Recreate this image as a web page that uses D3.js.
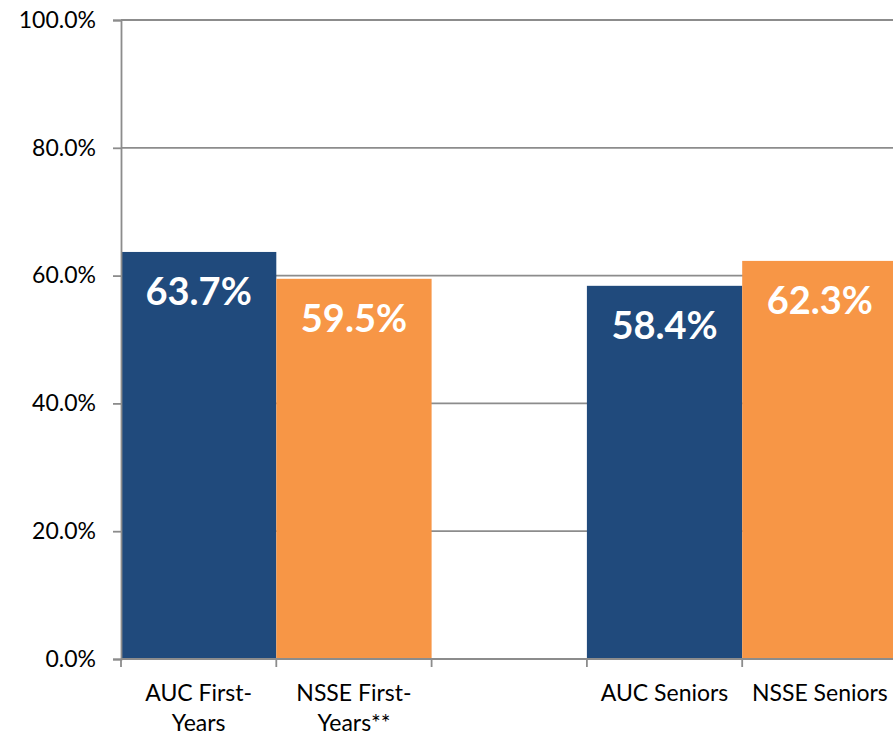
<!DOCTYPE html>
<html>
<head>
<meta charset="utf-8">
<script src="https://cdn.jsdelivr.net/npm/d3@7"></script>
<style>
  html, body { margin: 0; padding: 0; background: #fff; }
  svg { display: block; }
  text { font-family: Lato, "Open Sans", sans-serif; }
</style>
</head>
<body>
<svg id="chart" width="893" height="736"></svg>
<script>
// Share of students per group; the empty slot separates first-years from seniors
const categories = ["AUC First-Years", "NSSE First-Years**", "", "AUC Seniors", "NSSE Seniors"];
const values = [0.637, 0.595, null, 0.584, 0.623];
const groups = ["AUC", "NSSE", "", "AUC", "NSSE"];
const yTicks = [0, 0.2, 0.4, 0.6, 0.8, 1.0];
const colors = { AUC: "#204a7c", NSSE: "#f79646" };

const svg = d3.select("#chart");
const plotLeft = 121, plotTop = 20, plotBottom = 659, band = 155.3;

const x = d3.scaleBand()
  .domain(categories.map((c, i) => i))
  .range([plotLeft, plotLeft + band * categories.length])
  .padding(0);

const y = d3.scaleLinear().domain([0, 1]).range([plotBottom, plotTop]);

const gridColor = "#8c8c8c";
const pct = d3.format(".1%");

// horizontal gridlines
svg.append("g")
  .selectAll("line")
  .data(yTicks.filter(t => t > 0))
  .join("line")
  .attr("x1", plotLeft).attr("x2", 893)
  .attr("y1", d => y(d)).attr("y2", d => y(d))
  .attr("stroke", gridColor)
  .attr("stroke-width", 1.8);

// bars
const rows = categories.map((c, i) => ({ i, c, v: values[i], g: groups[i] }))
  .filter(d => d.v != null);

svg.append("g")
  .selectAll("rect")
  .data(rows)
  .join("rect")
  .attr("x", d => x(d.i))
  .attr("width", x.bandwidth())
  .attr("y", d => y(d.v))
  .attr("height", d => y(0) - y(d.v))
  .attr("fill", d => colors[d.g]);

// value labels inside the bars
svg.append("g")
  .selectAll("text")
  .data(rows)
  .join("text")
  .attr("x", d => x(d.i) + x.bandwidth() / 2)
  .attr("y", d => y(d.v) + 53)
  .attr("text-anchor", "middle")
  .attr("fill", "#fff")
  .attr("font-weight", 700)
  .attr("font-size", 38)
  .text(d => pct(d.v));

// y axis
const yAxis = svg.append("g")
  .attr("transform", `translate(${plotLeft},0)`)
  .call(d3.axisLeft(y).tickValues(yTicks).tickFormat(pct).tickSize(8).tickPadding(17));
yAxis.select(".domain").attr("stroke", gridColor).attr("stroke-width", 1.8);
yAxis.selectAll(".tick line").attr("stroke", gridColor).attr("stroke-width", 1.8);
yAxis.selectAll(".tick text")
  .attr("font-family", "Lato, 'Open Sans', sans-serif")
  .attr("font-size", 23)
  .attr("fill", "#000");

// x axis with tick marks on category boundaries
const xAxis = svg.append("g").attr("transform", `translate(0,${plotBottom})`);
xAxis.append("line")
  .attr("x1", plotLeft).attr("x2", 893)
  .attr("stroke", gridColor).attr("stroke-width", 1.8);
xAxis.selectAll("line.tick")
  .data(categories.map((c, i) => i))
  .join("line")
  .attr("class", "tick")
  .attr("x1", d => x(d)).attr("x2", d => x(d))
  .attr("y1", 0).attr("y2", 8)
  .attr("stroke", gridColor).attr("stroke-width", 1.8);

// category labels, wrapped to the band width
const maxW = x.bandwidth() - 4;
const labels = xAxis.selectAll("text.cat")
  .data(categories.map((c, i) => ({ c, i })).filter(d => d.c))
  .join("text")
  .attr("class", "cat")
  .attr("text-anchor", "middle")
  .attr("font-size", 23)
  .attr("fill", "#000");

labels.each(function(d) {
  const t = d3.select(this);
  const cx = x(d.i) + x.bandwidth() / 2;
  const tokens = d.c.match(/[^\s-]+-?\s*/g);
  const lines = [];
  let cur = "";
  const probe = t.append("tspan");
  tokens.forEach(tok => {
    const trial = cur + tok;
    probe.text(trial.trim());
    if (cur && probe.node().getComputedTextLength() > maxW) {
      lines.push(cur.trim());
      cur = tok;
    } else {
      cur = trial;
    }
  });
  lines.push(cur.trim());
  probe.remove();
  lines.forEach((ln, k) => {
    t.append("tspan")
      .attr("x", cx)
      .attr("y", 42 + k * 30)
      .text(ln);
  });
});
</script>
</body>
</html>
